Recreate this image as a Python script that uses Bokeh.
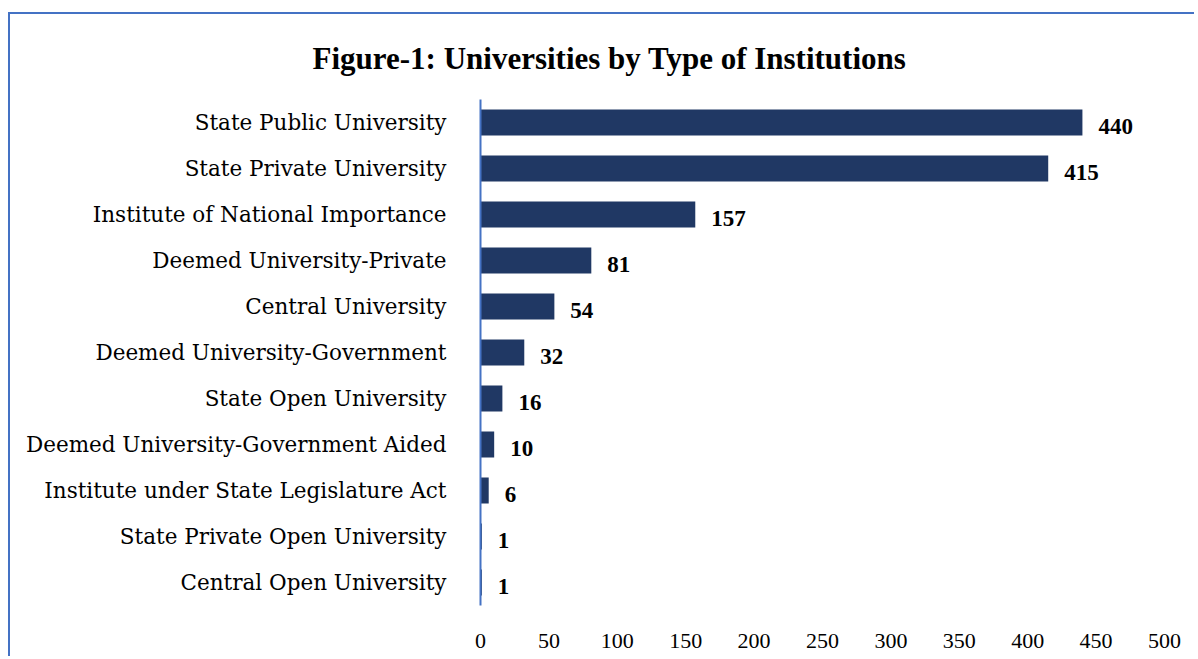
from bokeh.plotting import figure
from bokeh.models import ColumnDataSource, FixedTicker, Title
from bokeh.core.properties import value
from bokeh.embed import file_html
from bokeh.resources import INLINE

categories = [
    "State Public University",
    "State Private University",
    "Institute of National Importance",
    "Deemed University-Private",
    "Central University",
    "Deemed University-Government",
    "State Open University",
    "Deemed University-Government Aided",
    "Institute under State Legislature Act",
    "State Private Open University",
    "Central Open University",
]
counts = [440, 415, 157, 81, 54, 32, 16, 10, 6, 1, 1]
x_ticks = [0, 50, 100, 150, 200, 250, 300, 350, 400, 450, 500]
title_text = "Figure-1: Universities by Type of Institutions"

source = ColumnDataSource(data=dict(
    cat=categories,
    val=counts,
    lab=[str(v) for v in counts],
))

p = figure(
    y_range=list(reversed(categories)),
    x_range=(0, 500),
    width=1186,
    height=644,
    output_backend="svg",
    toolbar_location=None,
    min_border_left=470,
    min_border_right=32,
    min_border_top=85,
    min_border_bottom=53,
)
p.margin = (12, 0, 0, 8)
p.styles = {"border-top": "2px solid #4472C4", "border-left": "2px solid #4472C4"}

p.hbar(y="cat", right="val", left=0, height=0.565, source=source,
       fill_color="#203864", line_color=None)

p.text(x="val", y="cat", text="lab", source=source,
       x_offset=16, y_offset=4, text_baseline="middle", text_align="left",
       text_font=value("Liberation Serif"), text_font_style="bold",
       text_font_size="23px", text_color="#000000")

p.title = Title(text=title_text, align="left", offset=-168, standoff=47,
                text_font="Liberation Serif", text_font_size="31px",
                text_font_style="bold", text_color="#000000")

p.grid.visible = False
p.outline_line_color = None
p.background_fill_color = "white"
p.border_fill_color = "white"

xa = p.xaxis[0]
xa.ticker = FixedTicker(ticks=x_ticks)
xa.axis_line_color = None
xa.major_tick_line_color = None
xa.minor_tick_line_color = None
xa.major_tick_out = 0
xa.major_tick_in = 0
xa.major_label_standoff = 28
xa.major_label_text_font = "Liberation Serif"
xa.major_label_text_font_size = "22px"
xa.major_label_text_color = "#000000"

ya = p.yaxis[0]
ya.axis_line_color = "#4472C4"
ya.axis_line_width = 2
ya.major_tick_line_color = None
ya.minor_tick_line_color = None
ya.major_tick_out = 0
ya.major_tick_in = 0
ya.major_label_standoff = 34
ya.major_label_text_font = "DejaVu Serif"
ya.major_label_text_font_size = "21.5px"
ya.major_label_text_color = "#000000"

open("out.html", "w").write(file_html(p, INLINE))
